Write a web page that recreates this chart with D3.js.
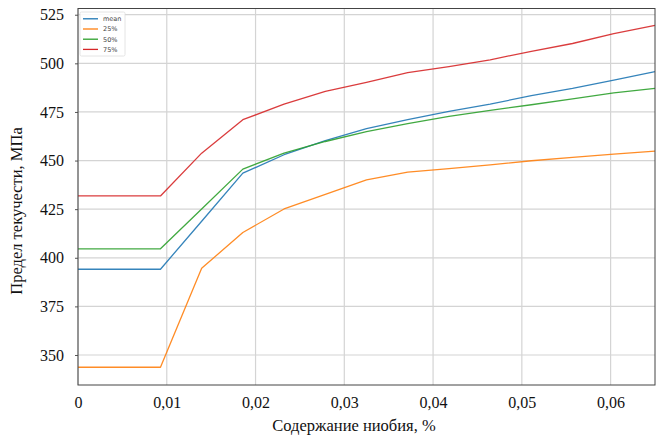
<!DOCTYPE html>
<html>
<head>
<meta charset="utf-8">
<script src="https://cdn.jsdelivr.net/npm/d3@7"></script>
<style>
  body { margin: 0; background: #fff; }
  svg { display: block; }
</style>
</head>
<body>
<div id="chart"></div>
<script>
// niobium content, %
const niobium = [0, 0.00464, 0.00929, 0.01393, 0.01857, 0.02321, 0.02786, 0.0325,
  0.03714, 0.04179, 0.04643, 0.05107, 0.05571, 0.06036, 0.065];

const meanVals = [394.1, 394.1, 394.1, 418.8, 443.5, 453.0, 460.3, 466.4,
  471.0, 475.3, 479.0, 483.4, 487.1, 491.4, 495.7];
const q25Vals = [343.7, 343.7, 343.7, 394.6, 413.0, 425.1, 432.6, 440.1,
  444.0, 445.8, 447.8, 449.9, 451.6, 453.3, 454.8];
const q50Vals = [404.6, 404.6, 404.6, 425.1, 445.6, 453.8, 459.8, 464.9,
  469.0, 472.7, 475.8, 478.7, 481.7, 484.8, 487.1];
const q75Vals = [431.8, 431.8, 431.8, 453.8, 471.0, 479.0, 485.6, 490.2,
  495.2, 498.3, 501.8, 506.2, 510.2, 515.3, 519.5];

const seriesNames = ['mean', '25%', '50%', '75%'];
const seriesColors = ['#1f77b4', '#ff7f0e', '#2ca02c', '#d62728'];
const xTicks = [0, 0.01, 0.02, 0.03, 0.04, 0.05, 0.06];
const yTicks = [350, 375, 400, 425, 450, 475, 500, 525];

const allSeries = [meanVals, q25Vals, q50Vals, q75Vals];

const W = 662, H = 441;
const margin = { top: 8.5, right: 7, bottom: 56, left: 78 };
const width = W - margin.left - margin.right;
const height = H - margin.top - margin.bottom;

const svg = d3.select('#chart').append('svg')
  .attr('width', W)
  .attr('height', H);

const g = svg.append('g')
  .attr('transform', `translate(${margin.left},${margin.top})`);

const x = d3.scaleLinear().domain([0, 0.065]).range([0, width]);
const y = d3.scaleLinear().domain([334.57, 528.2]).range([height, 0]);

// grid
g.append('g').selectAll('line.vg')
  .data(xTicks).join('line')
  .attr('x1', d => x(d)).attr('x2', d => x(d))
  .attr('y1', 0).attr('y2', height)
  .attr('stroke', '#d4d4d4').attr('stroke-width', 1.2);

g.append('g').selectAll('line.hg')
  .data(yTicks).join('line')
  .attr('x1', 0).attr('x2', width)
  .attr('y1', d => y(d)).attr('y2', d => y(d))
  .attr('stroke', '#d4d4d4').attr('stroke-width', 1.2);

// lines
const line = d3.line()
  .x((d, i) => x(niobium[i]))
  .y(d => y(d));

allSeries.forEach((vals, k) => {
  g.append('path')
    .datum(vals)
    .attr('fill', 'none')
    .attr('stroke', seriesColors[k])
    .attr('stroke-width', 1.3)
    .attr('stroke-opacity', 0.9)
    .attr('stroke-linejoin', 'round')
    .attr('d', line);
});

// axes
const fmt = d => d === 0 ? '0' : d3.format('.2f')(d).replace('.', ',');

const xAxis = g.append('g')
  .attr('transform', `translate(0,${height})`)
  .call(d3.axisBottom(x).tickValues(xTicks).tickFormat(fmt).tickSize(0).tickPadding(12));

const yAxis = g.append('g')
  .call(d3.axisLeft(y).tickValues(yTicks).tickSize(3).tickPadding(11));

[xAxis, yAxis].forEach(a => {
  a.select('.domain').remove();
  a.selectAll('text')
    .attr('font-family', '"Liberation Serif", serif')
    .attr('font-size', 16)
    .attr('fill', '#111');
  a.selectAll('line').attr('stroke', '#555');
});

// frame
g.append('rect')
  .attr('width', width).attr('height', height)
  .attr('fill', 'none')
  .attr('stroke', '#444').attr('stroke-width', 1);

// axis labels
svg.append('text')
  .attr('x', 354).attr('y', 431)
  .attr('text-anchor', 'middle')
  .attr('font-family', '"Liberation Serif", serif')
  .attr('font-size', 16.5)
  .attr('fill', '#111')
  .text('Содержание ниобия, %');

svg.append('text')
  .attr('transform', 'translate(22,211) rotate(-90)')
  .attr('text-anchor', 'middle')
  .attr('font-family', '"Liberation Serif", serif')
  .attr('font-size', 16.5)
  .attr('fill', '#111')
  .text('Предел текучести, МПа');

// legend
const legend = svg.append('g').attr('transform', 'translate(80,12)');
legend.append('rect')
  .attr('width', 45).attr('height', 44)
  .attr('rx', 1.5)
  .attr('fill', '#fff').attr('fill-opacity', 0.85)
  .attr('stroke', '#ddd').attr('stroke-width', 0.8);

seriesNames.forEach((name, k) => {
  const row = legend.append('g').attr('transform', `translate(0,${6.8 + k * 10.2})`);
  row.append('line')
    .attr('x1', 3).attr('x2', 18)
    .attr('stroke', seriesColors[k]).attr('stroke-width', 1.3);
  row.append('text')
    .attr('x', 23).attr('y', 2.3)
    .attr('font-family', '"DejaVu Sans", sans-serif')
    .attr('font-size', 6.5)
    .attr('fill', '#444')
    .text(name);
});
</script>
</body>
</html>
